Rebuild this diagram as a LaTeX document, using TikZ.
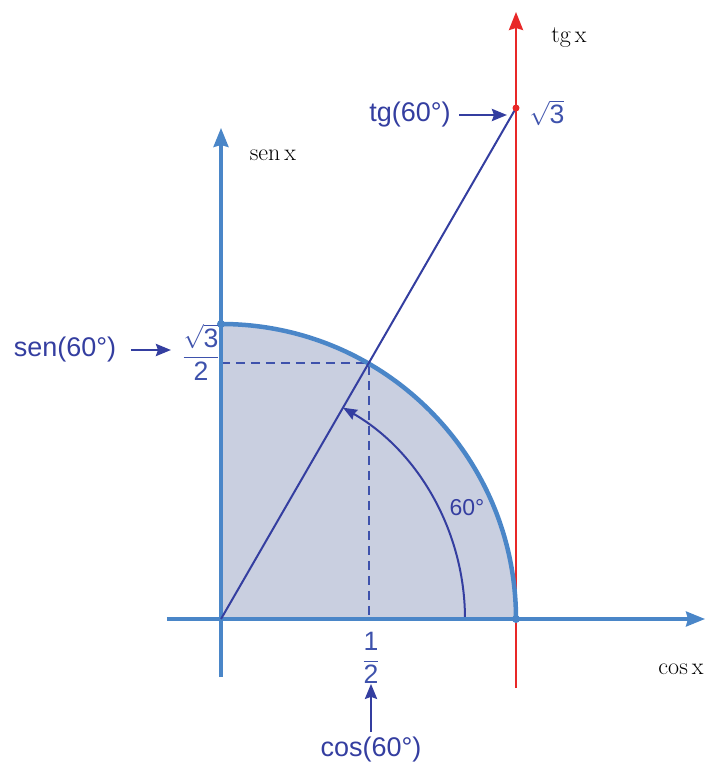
\documentclass[tikz,border=0pt]{standalone}
\usepackage{amsmath}
\usepackage{fontspec}
\newfontfamily\lab{Liberation Sans}
\usetikzlibrary{arrows.meta}
\definecolor{axisblue}{RGB}{74,134,200}
\definecolor{darkblue}{RGB}{52,62,160}
\definecolor{labblue}{RGB}{62,82,172}
\definecolor{fillgray}{RGB}{201,207,224}
\definecolor{redaxis}{RGB}{232,40,40}
\begin{document}
\begin{tikzpicture}[x=1pt,y=1pt,
  axis/.style={axisblue,line width=3.2pt,-{Stealth[length=19pt,width=15pt,inset=2pt]}},
  pointer/.style={darkblue,line width=2.8pt,-{Stealth[length=15pt,width=12pt,inset=2pt]}},
  biglab/.style={font=\lab\fontsize{27}{30}\selectfont,text=darkblue,inner sep=0pt},
  vallab/.style={font=\lab\fontsize{19}{22}\selectfont,text=labblue,inner sep=0pt},
  axlab/.style={font=\fontsize{24}{26}\selectfont,text=black,inner sep=0pt},
  dot/.style={circle,fill,inner sep=0pt,minimum size=8pt}]
\useasboundingbox (-221,-150) rectangle (487,619);
\coordinate (O) at (0,0);
\coordinate (A) at (295,0);
\coordinate (B) at (0,295);
\coordinate (P) at (147.5,255.5);
\coordinate (T) at (295,511);
\coordinate (Px) at (147.5,0);
\coordinate (Py) at (0,255.5);
% fill
\fill[fillgray] (O) -- (A) arc[start angle=0,end angle=90,radius=295] -- cycle;
% dashed
\draw[labblue,line width=2pt,dash pattern=on 9pt off 6pt] (Py) -- (P) -- (Px);
% inner arc
\draw[darkblue,line width=2pt,-{Stealth[length=14pt,width=11pt,inset=1.5pt]}] (244,0) arc[start angle=0,end angle=60,radius=244];
% axes
\coordinate (xl) at (-54,0);
\coordinate (xr) at (484,0);
\coordinate (yb) at (0,-58);
\coordinate (yt) at (0,491);
\draw[axis] (xl) -- (xr);
\draw[axis] (yb) -- (yt);
% red tangent axis
\coordinate (rb) at (295,-69);
\coordinate (rt) at (295,607);
\draw[redaxis,line width=2.6pt,-{Stealth[length=18pt,width=14pt,inset=2pt]}] (rb) -- (rt);
% circle arc
\draw[axisblue,line width=4.5pt] (A) arc[start angle=0,end angle=90,radius=295];
% ray
\draw[darkblue,line width=2pt] (O) -- (T);
% dots
\node[dot,axisblue] (dB) at (B) {};
\node[dot,axisblue] (dA) at (A) {};
\node[dot,redaxis,minimum size=7pt] (dT) at (T) {};
% labels
\node[vallab] (sq) at (-20,267) {\scalebox{1.4}{$\dfrac{\sqrt{\text{\lab 3}}}{\text{\lab 2}}$}};
\node[biglab] (sen) at (-156,269) {sen(60°)};
\coordinate (s1) at (-90,269);
\coordinate (s2) at (-50,269);
\draw[pointer] (s1) -- (s2);
\node[vallab] (half) at (150,-39) {\scalebox{1.4}{$\dfrac{\text{\lab 1}}{\text{\lab 2}}$}};
\node[biglab] (cos) at (150,-131) {cos(60°)};
\coordinate (c1) at (150,-113);
\draw[pointer] (c1) -- (half.south);
\node[vallab] (r3) at (326,506) {\scalebox{1.4}{$\sqrt{\text{\lab 3}}$}};
\node[biglab] (tg) at (189,504) {tg(60°)};
\coordinate (t1) at (238,504);
\coordinate (t2) at (286,504);
\draw[pointer] (t1) -- (t2);
\node[font=\lab\fontsize{23}{25}\selectfont,text=darkblue,inner sep=0pt] (ang) at (246,111) {60°};
\node[axlab] (tgx) at (348,581) {tg\,x};
\node[axlab] (senx) at (52,464) {sen\,x};
\node[axlab] (cosx) at (460,-50) {cos\,x};
\end{tikzpicture}
\end{document}
